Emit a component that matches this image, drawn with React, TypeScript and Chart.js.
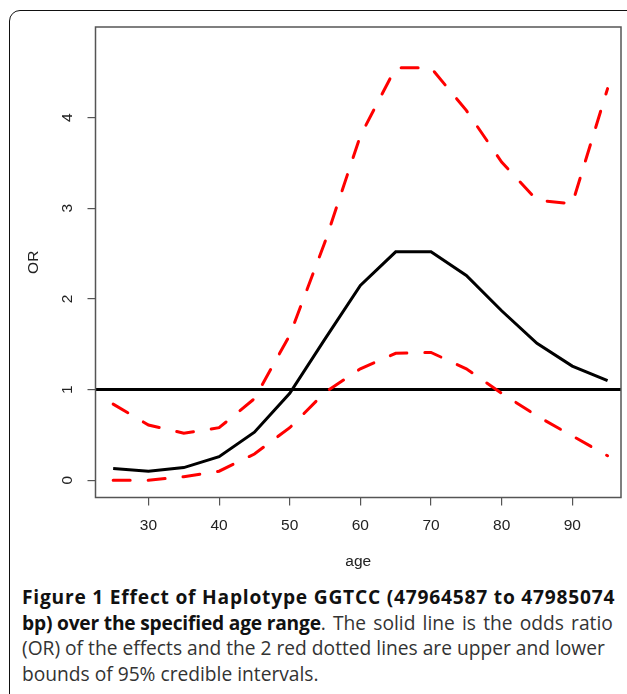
import React, { useEffect, useRef } from "react";
import { Chart, registerables } from "chart.js";

Chart.register(...registerables);

// ---- Data ----
const AGES = [25, 30, 35, 40, 45, 50, 55, 60, 65, 70, 75, 80, 85, 90, 95];
const OR_VALUES = [0.13, 0.1, 0.14, 0.26, 0.53, 0.96, 1.56, 2.15, 2.52, 2.52, 2.26, 1.87, 1.51, 1.26, 1.1];
const UPPER_95 = [0.84, 0.61, 0.52, 0.58, 0.9, 1.6, 2.63, 3.8, 4.55, 4.55, 4.08, 3.51, 3.09, 3.05, 4.32];
const LOWER_95 = [0.0, 0.0, 0.04, 0.1, 0.29, 0.58, 0.97, 1.23, 1.4, 1.41, 1.23, 0.96, 0.71, 0.49, 0.27];
const X_TICKS = [30, 40, 50, 60, 70, 80, 90];
const Y_TICKS = [0, 1, 2, 3, 4];
const REFERENCE_OR = 1;
const X_LABEL = "age";
const Y_LABEL = "OR";
const X_RANGE = [22.5, 96.9];
const Y_RANGE = [-0.19, 5.0];

const AXIS_FONT = "'Liberation Sans', Arial, Helvetica, sans-serif";
const AXIS_SIZE = 15.5;

export default function App() {
  const canvasRef = useRef<HTMLCanvasElement | null>(null);

  useEffect(() => {
    const canvas = canvasRef.current;
    if (!canvas) return;

    const frame = {
      id: "rFrame",
      beforeDatasetsDraw(chart: any) {
        const { ctx, chartArea, scales } = chart;
        const y = scales.y.getPixelForValue(REFERENCE_OR);
        ctx.save();
        ctx.strokeStyle = "#000";
        ctx.lineWidth = 3;
        ctx.beginPath();
        ctx.moveTo(chartArea.left, y);
        ctx.lineTo(chartArea.right, y);
        ctx.stroke();
        ctx.restore();
      },
      afterDraw(chart: any) {
        const { ctx, chartArea, scales } = chart;
        ctx.save();
        ctx.strokeStyle = "#555";
        ctx.lineWidth = 1.5;
        ctx.strokeRect(chartArea.left, chartArea.top, chartArea.right - chartArea.left, chartArea.bottom - chartArea.top);
        // rotated y tick labels (R style, parallel to axis)
        ctx.fillStyle = "#222";
        ctx.font = `${AXIS_SIZE}px ${AXIS_FONT}`;
        ctx.textAlign = "center";
        ctx.textBaseline = "middle";
        Y_TICKS.forEach((v) => {
          const py = scales.y.getPixelForValue(v);
          ctx.save();
          ctx.translate(68, py);
          ctx.rotate(-Math.PI / 2);
          ctx.fillText(String(v), 0, 0);
          ctx.restore();
        });
        ctx.restore();
      },
    };

    const chart = new Chart(canvas, {
      type: "line",
      data: {
        labels: AGES,
        datasets: [
          {
            label: "OR",
            data: AGES.map((a, i) => ({ x: a, y: OR_VALUES[i] })),
            borderColor: "#000",
            borderWidth: 3,
            pointRadius: 0,
            tension: 0,
            fill: false,
          },
          {
            label: "Upper 95%",
            data: AGES.map((a, i) => ({ x: a, y: UPPER_95[i] })),
            borderColor: "#ff0000",
            borderWidth: 3,
            borderDash: [17, 18],
            borderCapStyle: "round",
            pointRadius: 0,
            tension: 0,
            fill: false,
          },
          {
            label: "Lower 95%",
            data: AGES.map((a, i) => ({ x: a, y: LOWER_95[i] })),
            borderColor: "#ff0000",
            borderWidth: 3,
            borderDash: [17, 18],
            borderCapStyle: "round",
            pointRadius: 0,
            tension: 0,
            fill: false,
          },
        ],
      },
      options: {
        animation: false,
        responsive: false,
        maintainAspectRatio: false,
        events: [],
        layout: { padding: { top: 27, right: 6, left: 0, bottom: 0 } },
        plugins: {
          legend: { display: false },
          tooltip: { enabled: false },
          title: { display: false },
        },
        scales: {
          x: {
            type: "linear",
            min: X_RANGE[0],
            max: X_RANGE[1],
            afterBuildTicks: (scale: any) => {
              scale.ticks = X_TICKS.map((v) => ({ value: v }));
            },
            afterFit: (scale: any) => {
              scale.height = 82.5;
            },
            grid: {
              drawOnChartArea: false,
              drawTicks: true,
              tickLength: 8,
              color: "#555",
              lineWidth: 1.2,
            },
            border: { display: false },
            ticks: {
              color: "#222",
              font: { family: AXIS_FONT, size: AXIS_SIZE },
              padding: 11,
              maxRotation: 0,
              minRotation: 0,
              autoSkip: false,
              callback: (v: any) => String(v),
            },
            title: {
              display: true,
              text: X_LABEL,
              color: "#222",
              font: { family: AXIS_FONT, size: AXIS_SIZE },
              padding: { top: 0, bottom: 8.5 },
            },
          },
          y: {
            type: "linear",
            min: Y_RANGE[0],
            max: Y_RANGE[1],
            afterBuildTicks: (scale: any) => {
              scale.ticks = Y_TICKS.map((v) => ({ value: v }));
            },
            afterFit: (scale: any) => {
              scale.width = 95.5;
            },
            grid: {
              drawOnChartArea: false,
              drawTicks: true,
              tickLength: 8,
              color: "#555",
              lineWidth: 1.2,
            },
            border: { display: false },
            ticks: { display: false },
            title: {
              display: true,
              text: Y_LABEL,
              color: "#222",
              font: { family: AXIS_FONT, size: AXIS_SIZE },
              padding: { top: 24, bottom: 0 },
            },
          },
        },
      },
      plugins: [frame],
    });

    return () => chart.destroy();
  }, []);

  return (
    <div
      style={{
        position: "absolute",
        left: 0,
        top: 0,
        width: 627,
        height: 694,
        overflow: "hidden",
        background: "#fff",
      }}
    >
      <div
        style={{
          position: "absolute",
          left: 9,
          top: 10,
          width: 640,
          height: 700,
          border: "1.6px solid #111",
          borderRadius: 11,
          boxSizing: "border-box",
        }}
      />
      <canvas
        ref={canvasRef}
        width={627}
        height={580}
        style={{ position: "absolute", left: 0, top: 0, width: 627, height: 580 }}
      />
      <div
        style={{
          position: "absolute",
          left: 22,
          top: 584,
          width: 620,
          fontFamily: "'Open Sans', 'Noto Sans', sans-serif",
          fontSize: 19.2,
          lineHeight: "25.6px",
          color: "#333",
          whiteSpace: "nowrap",
        }}
      >
        <b style={{ color: "#111", fontWeight: 700, letterSpacing: "0.78px" }}>
          Figure 1 Effect of Haplotype GGTCC (47964587 to 47985074
        </b>
        <br />
        <b style={{ color: "#111", fontWeight: 700, letterSpacing: "-0.2px" }}>
          bp) over the specified age range
        </b>
        <span style={{ wordSpacing: "2.2px" }}>. The solid line is the odds ratio</span>
        <br />
        (OR) of the effects and the 2 red dotted lines are upper and lower
        <br />
        bounds of 95% credible intervals.
      </div>
    </div>
  );
}
